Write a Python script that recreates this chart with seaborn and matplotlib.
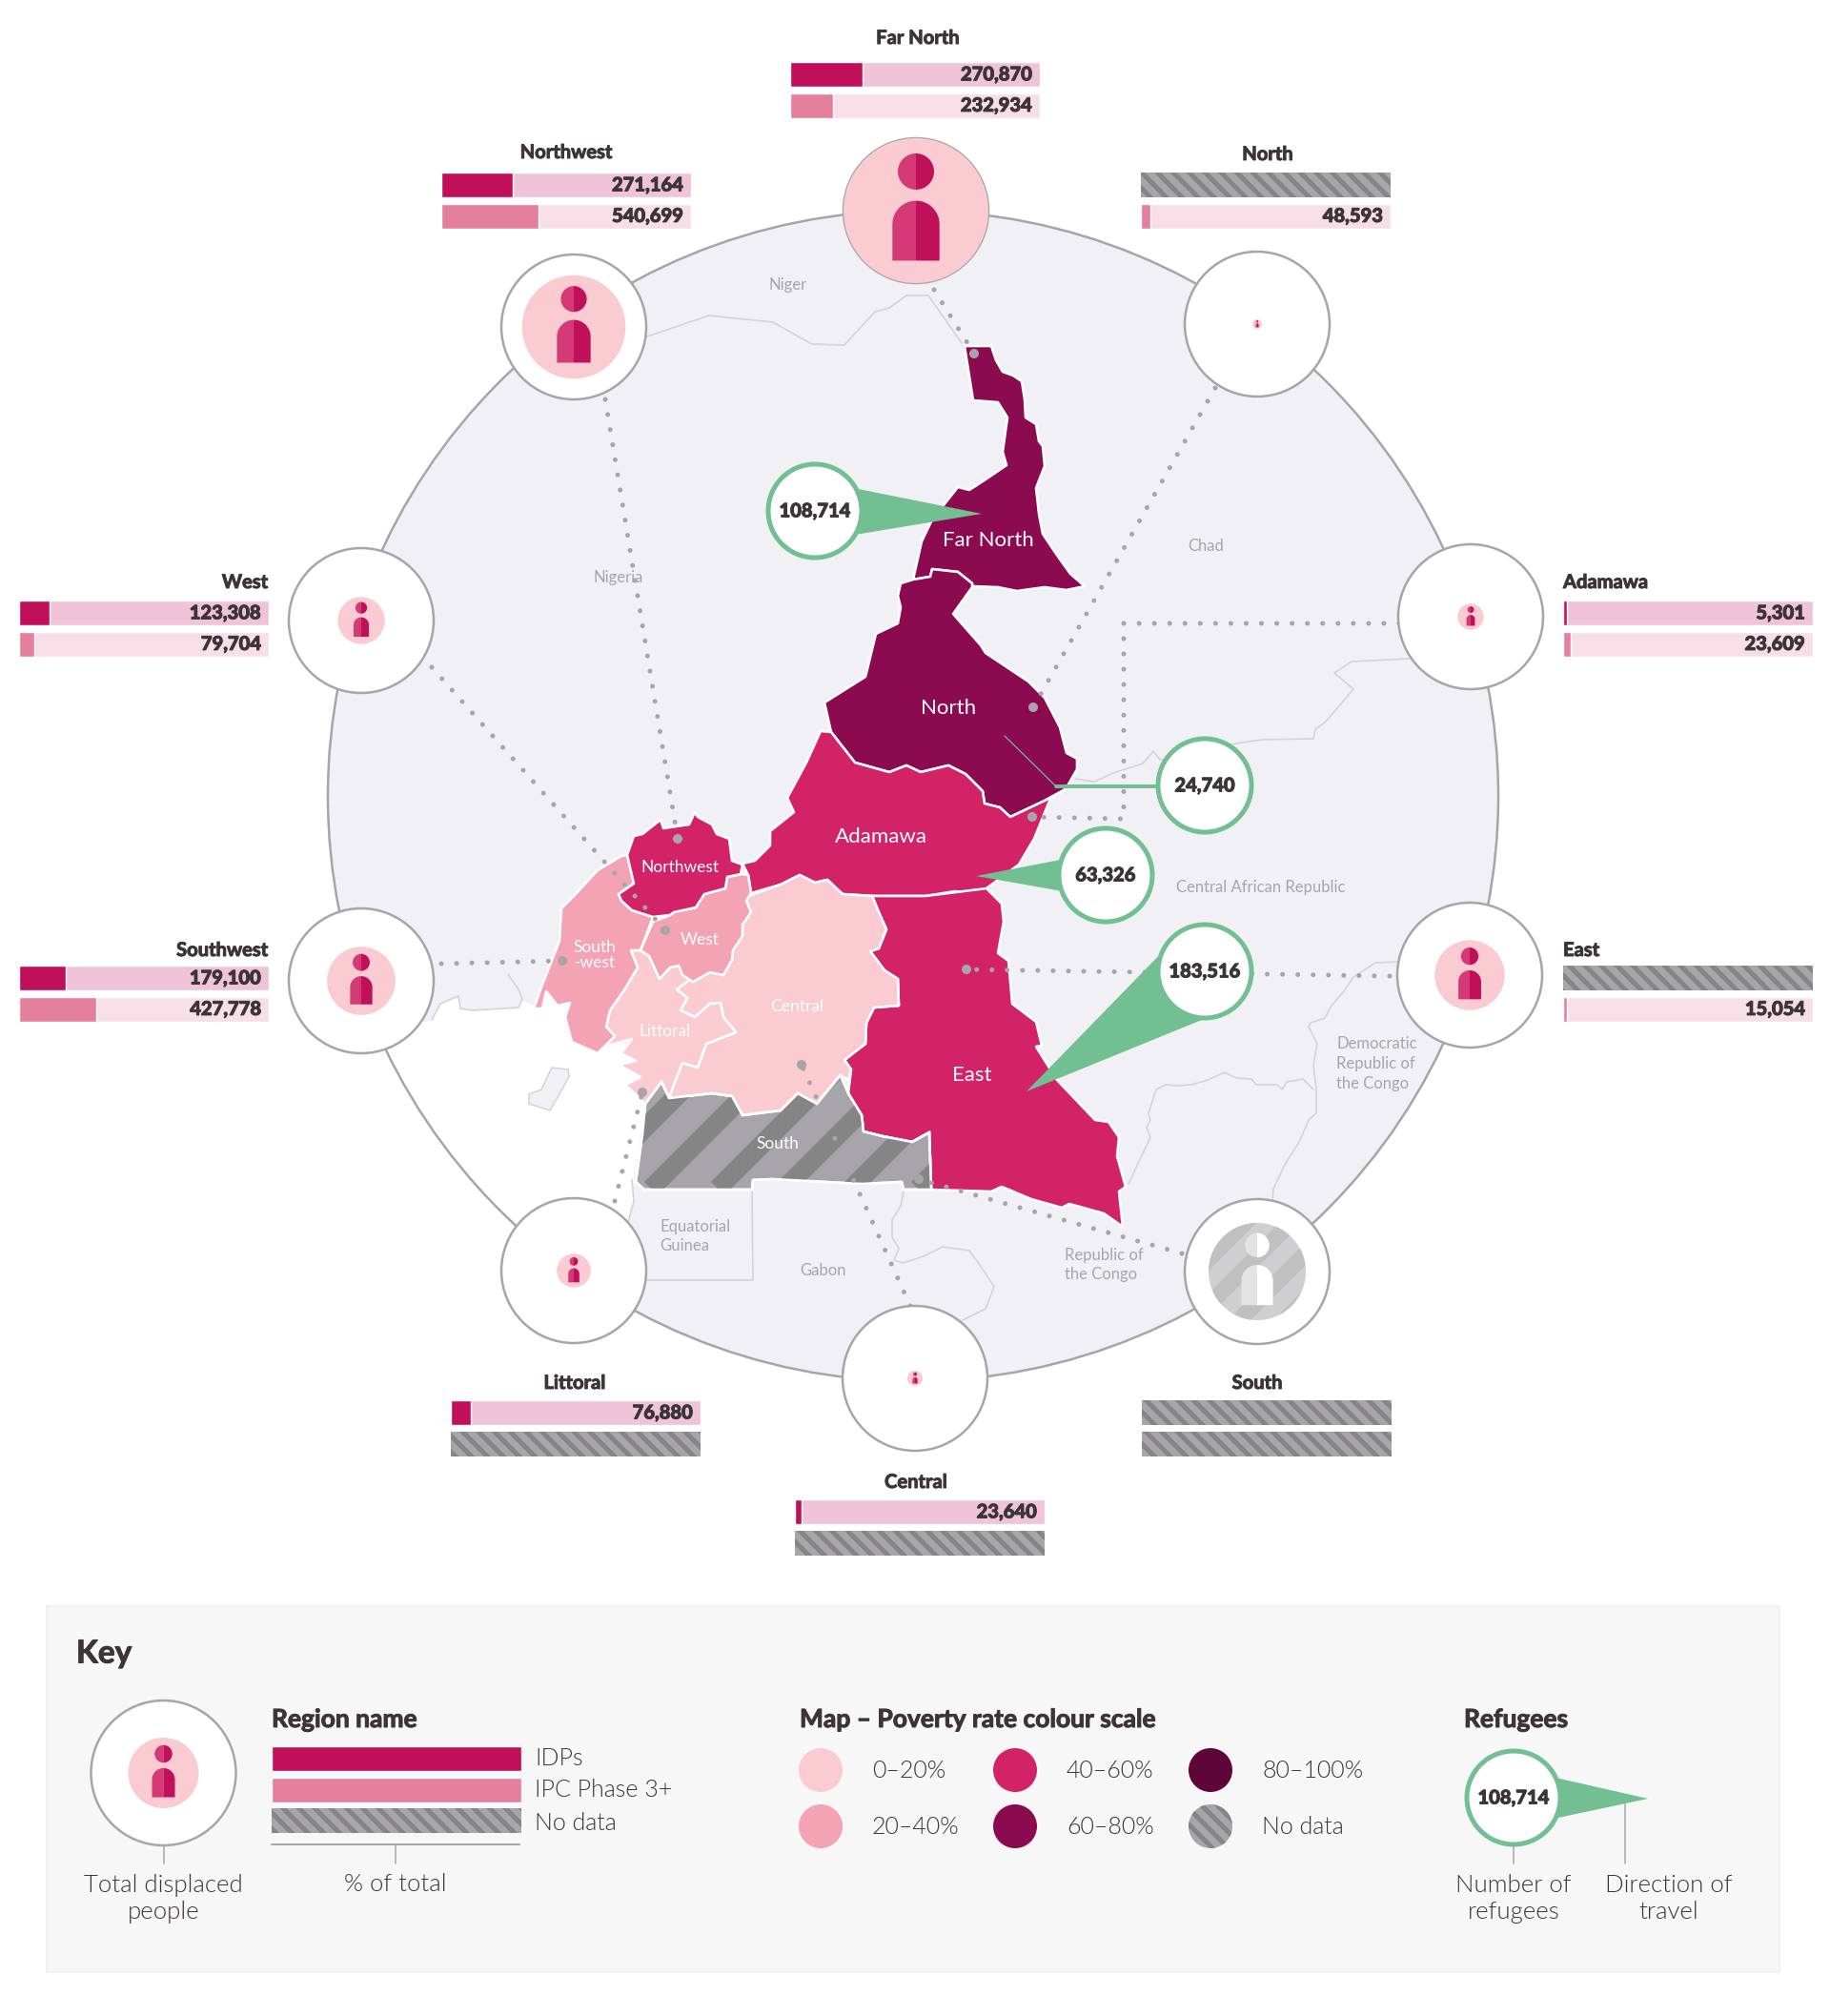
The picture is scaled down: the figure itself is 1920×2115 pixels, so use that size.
"""Cameroon displacement and poverty map with regional bars."""

import matplotlib

matplotlib.use("Agg")
import matplotlib.patheffects as pe
import matplotlib.pyplot as plt
import numpy as np
import seaborn as sns
from matplotlib.patches import Circle, Polygon, Rectangle, Wedge

WIDTH, HEIGHT = 1920, 2115

# values
regions = ["Far North", "North", "Adamawa", "East", "South", "Central", "Littoral", "Southwest", "West", "Northwest"]
idp_values = [270870, None, 5301, None, None, 23640, 76880, 179100, 123308, 271164]
ipc_values = [232934, 48593, 23609, 15054, None, None, None, 427778, 79704, 540699]
idp_share = [29, None, 1.5, None, None, 2.5, 8, 18.6, 12.4, 28.5]
ipc_share = [17, 4, 3, 1.5, None, None, None, 31, 6, 39]
total_displaced = [379584, 24740, 68627, 183516, None, 40000, 89000, 179100, 123308, 271164]
refugee_labels = ["108,714", "24,740", "63,326", "183,516"]
poverty_bands = ["0–20%", "20–40%", "40–60%", "60–80%", "80–100%", "No data"]

# layout: top-left of each bar pair, title anchor, circle centre, dotted leader
bar_xy = [(829, 65), (1197, 181), (1640, 630), (1640, 1013), (1198, 1469), (834, 1573), (473, 1469), (20, 1013), (20, 630), (463, 181)]
title_anchor = ["center", "center", "left", "left", "center", "center", "center", "right", "right", "center"]
title_xy = [(963, 40), (1330, 162), (1640, 611), (1640, 997), (1319, 1451), (961, 1555), (603, 1451), (281, 997), (281, 611), (594, 160)]
circle_xy = [(961, 221), (1319, 340), (1543, 647), (1542, 1023), (1319, 1334), (960, 1446), (602, 1333), (379, 1029), (379, 651), (602, 343)]
leaders = [
    [(980, 304), (1022, 371)],
    [(1275, 407), (1084, 742)],
    [(1468, 654), (1179, 654), (1179, 859), (1083, 857)],
    [(1458, 1024), (1014, 1017)],
    [(1240, 1315), (964, 1237)],
    [(955, 1370), (841, 1117)],
    [(645, 1260), (674, 1146)],
    [(463, 1011), (590, 1008)],
    [(453, 700), (698, 976)],
    [(635, 419), (711, 880)],
]

# outlines
far_north = [(1012, 363), (1040, 363), (1045, 378), (1052, 390), (1063, 394), (1072, 400), (1075, 419), (1076, 438), (1087, 445), (1090, 463), (1094, 468), (1096, 489), (1087, 512), (1090, 539), (1094, 560), (1108, 581), (1123, 602), (1138, 615), (1119, 619), (1096, 616), (1067, 620), (1047, 616), (1020, 615), (1020, 612), (1005, 600), (978, 597), (976, 605), (958, 608), (967, 568), (978, 545), (1005, 511), (1017, 514), (1034, 503), (1056, 488), (1052, 474), (1057, 438), (1047, 422), (1021, 420)]
north = [(958, 608), (976, 605), (978, 597), (1005, 600), (1020, 612), (1020, 616), (1000, 644), (1029, 677), (1034, 685), (1079, 715), (1096, 732), (1112, 763), (1119, 790), (1130, 796), (1130, 807), (1118, 828), (1096, 840), (1060, 857), (1049, 847), (1033, 843), (1031, 830), (1013, 812), (995, 803), (966, 810), (951, 803), (933, 810), (897, 800), (872, 768), (865, 737), (908, 710), (919, 665), (942, 654), (945, 637), (942, 625), (945, 612)]
adamawa = [(861, 767), (872, 768), (897, 800), (933, 810), (951, 803), (966, 810), (995, 803), (1013, 812), (1031, 830), (1033, 843), (1049, 847), (1060, 857), (1096, 840), (1118, 828), (1102, 838), (1085, 880), (1069, 907), (1035, 932), (1015, 937), (1002, 935), (971, 940), (915, 940), (884, 938), (868, 923), (855, 926), (839, 918), (819, 928), (788, 937), (785, 918), (779, 906), (792, 903), (808, 887), (808, 872), (833, 852), (826, 837), (846, 800)]
northwest = [(658, 897), (665, 877), (674, 875), (693, 860), (696, 869), (723, 865), (729, 852), (732, 857), (747, 865), (752, 875), (765, 880), (768, 903), (779, 907), (777, 917), (763, 920), (761, 932), (739, 938), (730, 952), (707, 957), (703, 960), (685, 962), (663, 955), (652, 945), (649, 938), (665, 927)]
west = [(779, 917), (785, 918), (788, 937), (783, 945), (788, 957), (779, 970), (779, 982), (769, 997), (768, 1007), (759, 1023), (745, 1020), (727, 1030), (716, 1023), (712, 1013), (703, 1015), (692, 1027), (681, 1003), (672, 997), (685, 967), (703, 960), (707, 957), (730, 952), (739, 938), (761, 932), (763, 920)]
southwest = [(652, 898), (658, 897), (665, 927), (649, 938), (652, 945), (663, 955), (685, 962), (672, 997), (662, 997), (669, 1015), (656, 1037), (640, 1060), (636, 1077), (645, 1087), (634, 1098), (627, 1105), (620, 1102), (600, 1093), (593, 1067), (598, 1052), (585, 1055), (573, 1040), (569, 1058), (560, 1058), (569, 1033), (587, 987), (589, 953), (602, 940), (627, 913)]
littoral = [(669, 1015), (662, 997), (672, 997), (681, 1003), (692, 1027), (703, 1015), (712, 1013), (723, 1028), (710, 1038), (721, 1047), (714, 1060), (729, 1067), (745, 1053), (756, 1052), (759, 1067), (772, 1083), (741, 1095), (732, 1120), (716, 1115), (707, 1138), (702, 1152), (694, 1135), (677, 1158), (656, 1138), (672, 1130), (649, 1117), (667, 1113), (652, 1105), (663, 1090), (634, 1098), (645, 1087), (636, 1077), (640, 1060), (656, 1037)]
central = [(785, 940), (819, 928), (839, 918), (855, 926), (868, 923), (884, 938), (915, 940), (922, 957), (930, 975), (922, 995), (913, 998), (928, 1018), (942, 1027), (943, 1055), (917, 1057), (909, 1073), (908, 1095), (886, 1112), (893, 1122), (890, 1133), (881, 1128), (866, 1147), (857, 1158), (837, 1147), (819, 1165), (779, 1170), (768, 1150), (747, 1147), (705, 1153), (702, 1152), (707, 1138), (716, 1115), (732, 1120), (741, 1095), (772, 1083), (759, 1067), (756, 1052), (745, 1053), (729, 1067), (714, 1060), (721, 1047), (710, 1038), (723, 1028), (727, 1030), (745, 1020), (759, 1023), (768, 1007), (769, 997), (779, 982), (779, 970), (788, 957), (783, 945)]
south = [(677, 1158), (694, 1135), (702, 1152), (747, 1147), (768, 1150), (779, 1170), (819, 1165), (837, 1147), (857, 1158), (866, 1147), (882, 1128), (890, 1147), (904, 1170), (906, 1187), (926, 1192), (957, 1198), (975, 1188), (977, 1248), (948, 1248), (946, 1240), (904, 1242), (810, 1237), (790, 1238), (789, 1248), (676, 1248), (667, 1240), (674, 1190)]
east = [(915, 940), (971, 940), (1035, 932), (1051, 948), (1053, 967), (1047, 1000), (1058, 1008), (1062, 1053), (1087, 1072), (1093, 1097), (1087, 1098), (1109, 1133), (1149, 1175), (1163, 1177), (1174, 1193), (1172, 1213), (1181, 1245), (1174, 1250), (1178, 1287), (1158, 1273), (1122, 1263), (1114, 1267), (1082, 1258), (1051, 1245), (1040, 1250), (977, 1248), (975, 1188), (957, 1198), (926, 1192), (906, 1187), (904, 1170), (890, 1147), (893, 1122), (886, 1112), (908, 1095), (909, 1073), (917, 1057), (943, 1055), (942, 1027), (928, 1018), (913, 998), (922, 995), (930, 975), (922, 957)]
sea = [(300, 1073), (440, 1073), (453, 1070), (462, 1053), (481, 1045), (483, 1058), (496, 1060), (544, 1057), (548, 1050), (563, 1056), (573, 1038), (585, 1050), (598, 1048), (610, 1060), (640, 1080), (670, 1110), (680, 1158), (672, 1190), (665, 1238), (665, 1260), (659, 1282), (678, 1347), (665, 1375), (640, 1500), (300, 1500)]
bioko = [(579, 1120), (596, 1122), (597, 1130), (577, 1165), (555, 1158), (555, 1148), (568, 1143)]
borders = [
    [(676, 354), (744, 331), (811, 338), (852, 361), (886, 362), (918, 327), (933, 323), (951, 310), (974, 310), (1009, 360)],
    [(1480, 691), (1418, 694), (1400, 706), (1420, 723), (1391, 757), (1380, 765), (1378, 775), (1324, 776), (1297, 780), (1217, 797), (1210, 788), (1199, 801), (1168, 811), (1148, 820), (1128, 817)],
    [(1467, 1009), (1443, 1010), (1420, 1025), (1410, 1040), (1397, 1055), (1390, 1068), (1375, 1073), (1373, 1077), (1382, 1095), (1378, 1117), (1381, 1143), (1381, 1168), (1373, 1175), (1363, 1198), (1348, 1222), (1336, 1247), (1335, 1260)],
    [(1184, 1242), (1207, 1193), (1203, 1183), (1207, 1175), (1205, 1168), (1213, 1143), (1223, 1138), (1235, 1139), (1250, 1138), (1267, 1133), (1285, 1125), (1297, 1131), (1313, 1132), (1318, 1138), (1340, 1138), (1345, 1143), (1350, 1135), (1367, 1132), (1378, 1143)],
    [(533, 1022), (544, 1038), (548, 1048), (544, 1057), (496, 1060), (483, 1058), (481, 1045), (462, 1053), (453, 1070)],
    [(789, 1248), (790, 1343), (678, 1343)],
    [(663, 1237), (665, 1260), (659, 1282)],
    [(948, 1250), (945, 1265), (936, 1280), (936, 1298), (943, 1310), (938, 1322), (947, 1325), (969, 1318), (989, 1308), (1017, 1312), (1030, 1330), (1043, 1350), (1034, 1373), (1010, 1385), (1008, 1390)],
]

GREY = "#A7A5A9"
HATCH = "#858585"
IDP = "#C1105A"
IDP_LEFT = "#D43A75"
IPC = "#E47F9C"
IDP_BG = "#F1C3D7"
IPC_BG = "#F8DEE6"
PINK = "#FACBD0"
GREEN = "#72C092"
TEXT = "#3B3538"
DISC = "#F1F0F4"
BORDER = "#D3D2D6"
BAND_COLOURS = ["#FACBD0", "#F4A3B5", "#D12365", "#8C0A50", "#5E0539", GREY]
HEAVY = [pe.withStroke(linewidth=0.7, foreground=TEXT)]
LIGHT = 300

sns.set_theme(style="white")
plt.rcParams["font.family"] = ["Lato", "DejaVu Sans"]
plt.rcParams["hatch.linewidth"] = 3.6


def px(value):
    """Pixels to points at dpi 100."""
    return value * 0.72


def person(ax, cx, cy, r, left=IDP_LEFT, right=IDP, z=8):
    """Split person icon sized from the radius of its circle."""
    hw = 0.325 * r
    top, bottom = cy - 0.137 * r, cy + 0.69 * r
    head_y, head_r = cy - 0.54 * r, 0.25 * r
    ax.add_patch(Wedge((cx, head_y), head_r, 90, 270, fc=left, lw=0, zorder=z))
    ax.add_patch(Wedge((cx, head_y), head_r, 270, 450, fc=right, lw=0, zorder=z))
    arc = np.linspace(0, np.pi / 2, 24)
    for side, colour in [(-1, left), (1, right)]:
        arch = [(cx + side * hw * np.sin(a), top + hw - hw * np.cos(a)) for a in arc]
        ax.add_patch(Polygon(arch + [(cx + side * hw, bottom), (cx, bottom)], fc=colour, lw=0, zorder=z))


def stripes(ax, patch, starts, y0, length, width, colour, z):
    """Diagonal stripes clipped to a patch."""
    for x0 in starts:
        line, = ax.plot([x0, x0 + length], [y0, y0 - length], color=colour, lw=px(width), solid_capstyle="butt", zorder=z)
        line.set_clip_path(patch)


def callout(ax, cx, cy, tip, half, label, z=9):
    """Refugee bubble with its wedge pointing to the tip."""
    if tip is not None:
        dx, dy = tip[0] - cx, tip[1] - cy
        norm = np.hypot(dx, dy)
        nx, ny = -dy / norm * half, dx / norm * half
        ax.add_patch(Polygon([(cx + nx, cy + ny), (cx - nx, cy - ny), tip], fc=GREEN, lw=0, zorder=z))
    ax.add_patch(Circle((cx, cy), 49, fc="white", ec=GREEN, lw=px(5), zorder=z))
    ax.text(cx, cy, label, ha="center", va="center", fontsize=14.5, fontweight="black", color=TEXT, zorder=z + 1, path_effects=HEAVY)


def bar_panel(fig, x, y, rows, shares, backgrounds, fills, values=None, count=2):
    """One group of stacked share bars drawn by seaborn in its own axes."""
    height = 26 * count + 6.5 * (count - 1)
    panel = fig.add_axes([x / WIDTH, 1 - (y + height) / HEIGHT, 262 / WIDTH, height / HEIGHT])
    for i, row in enumerate(rows):
        if backgrounds[i] is None:
            sns.barplot(x=[100], y=[row], order=rows, color=GREY, width=26 / 32.5, saturation=1, ax=panel)
            bar = panel.patches[-1]
            bar.set_edgecolor(HATCH)
            bar.set_hatch("\\\\")
            bar.set_linewidth(0)
            continue
        sns.barplot(x=[100], y=[row], order=rows, color=backgrounds[i], width=26 / 32.5, saturation=1, ax=panel)
        if shares[i] is not None:
            sns.barplot(x=[shares[i]], y=[row], order=rows, color=fills[i], width=26 / 32.5, saturation=1, ax=panel)
        if values is not None and values[i] is not None:
            panel.annotate(f"{values[i]:,}", xy=(100, i), xytext=(-px(8), 0), textcoords="offset points", ha="right", va="center", fontsize=14.5, fontweight="black", color=TEXT, path_effects=HEAVY)
    panel.set_xlim(0, 100)
    panel.set_ylim(count - 1 + 13 / 32.5, -13 / 32.5)
    panel.axis("off")
    return panel


fig = plt.figure(figsize=(WIDTH / 100, HEIGHT / 100), dpi=100, facecolor="white")
ax = fig.add_axes([0, 0, 1, 1])
ax.set_xlim(0, WIDTH)
ax.set_ylim(HEIGHT, 0)
ax.axis("off")

# background disc and neighbours
ax.add_patch(Circle((958, 835), 614, fc=DISC, lw=0, zorder=1))
ax.add_patch(Polygon(sea, fc="white", lw=0, zorder=1.1))
ax.add_patch(Circle((958, 835), 614, fc="none", ec=GREY, lw=px(2.5), zorder=1.2))
ax.add_patch(Polygon(bioko, fc=DISC, ec=BORDER, lw=px(1.5), zorder=1.3))
for border in borders:
    xs, ys = zip(*border)
    ax.plot(xs, ys, color=BORDER, lw=px(1.6), zorder=1.3)

for name, (tx, ty), ha in [
    ("Niger", (827, 299), "center"),
    ("Nigeria", (649, 606), "center"),
    ("Chad", (1265, 573), "center"),
    ("Central African Republic", (1323, 931), "center"),
    ("Democratic\nRepublic of\nthe Congo", (1402, 1116), "left"),
    ("Republic of\nthe Congo", (1117, 1327), "left"),
    ("Equatorial\nGuinea", (692, 1297), "left"),
    ("Gabon", (863, 1333), "center"),
]:
    ax.text(tx, ty, name, ha=ha, va="center", fontsize=12, color=GREY, linespacing=1.35, zorder=2)

# regions coloured by poverty band
region_polys = [
    (far_north, 3), (north, 3), (adamawa, 2), (east, 2), (central, 0),
    (littoral, 0), (southwest, 1), (west, 1), (northwest, 2), (south, 5),
]
for outline, band in region_polys:
    patch = Polygon(outline, fc=BAND_COLOURS[band], ec="white", lw=px(2.6), joinstyle="round", zorder=3)
    ax.add_patch(patch)
    if band == 5:
        stripes(ax, patch, np.arange(613, 1040, 70), 1247, 200, 20, HATCH, 3.1)
        ax.add_patch(Polygon(outline, fc="none", ec="white", lw=px(2.6), zorder=3.2))

for name, (tx, ty), size in [
    ("Far North", (1037, 567), 16), ("North", (995, 743), 16), ("Adamawa", (924, 878), 16),
    ("East", (1020, 1128), 16), ("Northwest", (713, 910), 12.5), ("South\n-west", (624, 1002), 12.5),
    ("West", (734, 986), 12.5), ("Central", (836, 1056), 12.5), ("Littoral", (697, 1082), 12.5),
    ("South", (816, 1200), 12.5),
]:
    ax.text(tx, ty, name, ha="center", va="center", fontsize=size, color="white", linespacing=0.95, zorder=6)

# dotted leaders from the circles to the regions
for path in leaders:
    xs, ys = zip(*path)
    ax.plot(xs, ys, color=GREY, lw=px(5), linestyle=(0, (0.01, 3.2)), dash_capstyle="round", zorder=4)
    ax.add_patch(Circle(path[-1], 5, fc=GREY, lw=0, zorder=4.1))

# region circles
scale = 76 / max(v for v in total_displaced if v is not None)
for (cx, cy), total in zip(circle_xy, total_displaced):
    ax.add_patch(Circle((cx, cy), 76, fc="white", ec=GREY, lw=px(2.5), zorder=7))
    if total is None:
        inner = Circle((cx, cy), 51, fc="#CFCFD1", lw=0, zorder=7.1)
        ax.add_patch(inner)
        stripes(ax, inner, np.arange(cx - 115, cx + 60, 48), cy + 51, 160, 17, "#C0C0C0", 7.2)
        person(ax, cx, cy, 51, left="#E3E3E4", right="white")
        continue
    r = total * scale
    ax.add_patch(Circle((cx, cy), r, fc=PINK, lw=0, zorder=7.1))
    person(ax, cx, cy, r)

# refugee callouts
callout(ax, 855, 536, (1030, 539), 32, refugee_labels[0])
ax.plot([1054, 1108], [772, 825], color=GREEN, lw=px(1.2), zorder=8.5)
ax.plot([1108, 1220], [825, 825], color=GREEN, lw=px(4), zorder=8.5)
callout(ax, 1264, 824, None, 0, refugee_labels[1])
callout(ax, 1160, 918, (1024, 919), 25, refugee_labels[2])
callout(ax, 1264, 1019, (1077, 1145), 47, refugee_labels[3])

# region bars and titles
for i, name in enumerate(regions):
    x, y = bar_xy[i]
    rows = ["IDPs", "IPC Phase 3+"]
    backgrounds = [IDP_BG if idp_values[i] is not None else None, IPC_BG if ipc_values[i] is not None else None]
    bar_panel(fig, x, y, rows, [idp_share[i], ipc_share[i]], backgrounds, [IDP, IPC], [idp_values[i], ipc_values[i]])
    ax.text(*title_xy[i], name, ha=title_anchor[i], va="center", fontsize=14.5, fontweight="bold", color=TEXT, path_effects=HEAVY)

# key
ax.add_patch(Rectangle((49, 1685), 1818, 384, fc="#F7F7F7", ec="#EEEEEE", lw=px(1.5), zorder=1))
ax.text(80, 1735, "Key", ha="left", va="center", fontsize=24, fontweight="bold", color=TEXT, path_effects=HEAVY)

ax.add_patch(Circle((171.5, 1860), 76, fc="white", ec=GREY, lw=px(2.5), zorder=3))
ax.add_patch(Circle((171.5, 1860), 37, fc=PINK, lw=0, zorder=3.1))
person(ax, 171.5, 1860, 37)
ax.plot([171.5, 171.5], [1936, 1955], color=GREY, lw=px(1.5))
ax.text(171.5, 1992, "Total displaced\npeople", ha="center", va="center", fontsize=18.5, fontweight=LIGHT, color=TEXT, linespacing=1.25)

ax.text(285, 1804, "Region name", ha="left", va="center", fontsize=19, fontweight="bold", color=TEXT, path_effects=HEAVY)
key_rows = ["IDPs", "IPC Phase 3+", "No data"]
bar_panel(fig, 285, 1832, key_rows, [100, 100, None], [IDP, IPC, None], [IDP, IPC, None], count=3)
for label, ty in zip(key_rows, [1845, 1878, 1913]):
    ax.text(561, ty, label, ha="left", va="center", fontsize=18, fontweight=LIGHT, color=TEXT)
ax.plot([285, 545], [1935, 1935], color=GREY, lw=px(2))
ax.plot([415, 415], [1935, 1955], color=GREY, lw=px(1.5))
ax.text(415, 1977, "% of total", ha="center", va="center", fontsize=18.5, fontweight=LIGHT, color=TEXT)

ax.text(839, 1804, "Map – Poverty rate colour scale", ha="left", va="center", fontsize=19, fontweight="bold", color=TEXT, path_effects=HEAVY)
swatch_xy = [(861, 1857), (861, 1916), (1065, 1857), (1065, 1916), (1270, 1857), (1270, 1916)]
for (sx, sy), label, colour in zip(swatch_xy, poverty_bands, BAND_COLOURS):
    swatch = Circle((sx, sy), 23, fc=colour, lw=0, zorder=3)
    if label == "No data":
        swatch.set_edgecolor(HATCH)
        swatch.set_hatch("\\\\")
    ax.add_patch(swatch)
    ax.text(sx + 54, sy + 1, label, ha="left", va="center", fontsize=18, fontweight=LIGHT, color=TEXT)

ax.text(1536, 1804, "Refugees", ha="left", va="center", fontsize=19, fontweight="bold", color=TEXT, path_effects=HEAVY)
callout(ax, 1588, 1886, (1729, 1887), 31, "108,714", z=3)
ax.plot([1588, 1588], [1935, 1955], color=GREY, lw=px(1.5))
ax.plot([1705, 1705], [1892, 1955], color=GREY, lw=px(1.5))
ax.text(1588, 1992, "Number of\nrefugees", ha="center", va="center", fontsize=18.5, fontweight=LIGHT, color=TEXT, linespacing=1.25)
ax.text(1751, 1992, "Direction of\ntravel", ha="center", va="center", fontsize=18.5, fontweight=LIGHT, color=TEXT, linespacing=1.25)

fig.savefig("out.png", dpi=100)
